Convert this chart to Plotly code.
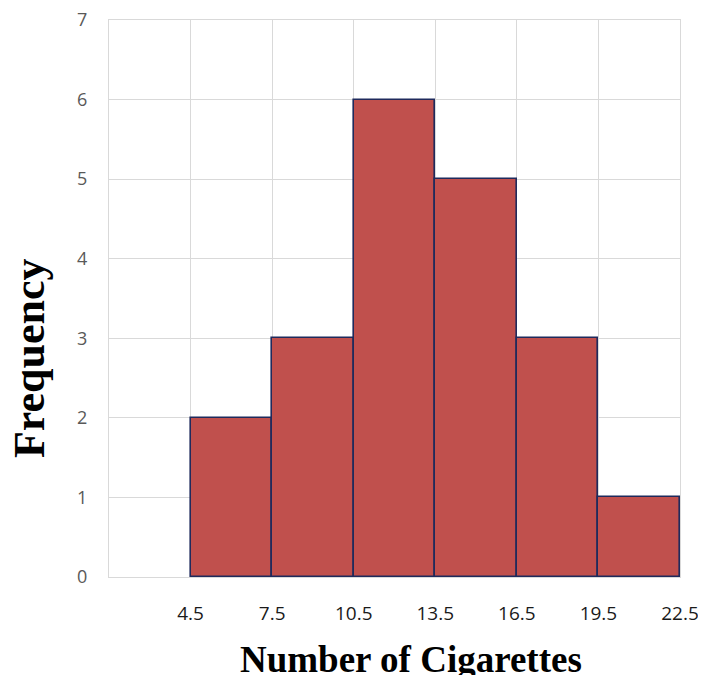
import plotly.graph_objects as go

bin_edges = [4.5, 7.5, 10.5, 13.5, 16.5, 19.5, 22.5]
frequencies = [2, 3, 6, 5, 3, 1]
x_tick_labels = ["4.5", "7.5", "10.5", "13.5", "16.5", "19.5", "22.5"]
y_ticks = [0, 1, 2, 3, 4, 5, 6, 7]

centers = [(a + b) / 2 for a, b in zip(bin_edges[:-1], bin_edges[1:])]
widths = [b - a for a, b in zip(bin_edges[:-1], bin_edges[1:])]

fig = go.Figure()
fig.add_trace(go.Bar(
    x=centers, y=frequencies, width=widths,
    marker=dict(color="#C0504D", line=dict(color="#1F2A5C", width=1.6)),
    hoverinfo="x+y",
))

grid_vals = [1.5] + bin_edges
fig.update_layout(
    width=698, height=667,
    margin=dict(l=101, r=26, t=12, b=98),
    paper_bgcolor="white", plot_bgcolor="white",
    showlegend=False,
    bargap=0,
    xaxis=dict(
        range=[1.5, 22.5],
        tickvals=grid_vals,
        ticktext=[""] + x_tick_labels,
        showgrid=True, gridcolor="#D9D9D9", gridwidth=1,
        showline=True, linecolor="#D9D9D9", linewidth=1, mirror=True,
        zeroline=False, ticks="", ticklabelstandoff=19, automargin=False,
        ticklabeloverflow="allow",
        tickfont=dict(family="Open Sans", size=19, color="#1a1a1a"),
        fixedrange=True,
    ),
    yaxis=dict(
        range=[0, 7],
        tickvals=y_ticks,
        showgrid=True, gridcolor="#D9D9D9", gridwidth=1,
        showline=True, linecolor="#D9D9D9", linewidth=1, mirror=True,
        zeroline=False, ticks="", ticklabelstandoff=17, automargin=False,
        ticklabeloverflow="allow",
        tickfont=dict(family="Open Sans", size=18, color="#595959"),
        fixedrange=True,
    ),
    annotations=[
        dict(text="<b>Number of Cigarettes</b>", xref="paper", yref="paper",
             x=0.529, y=0, yshift=-82, xanchor="center", yanchor="middle",
             showarrow=False, font=dict(family="Liberation Serif", size=37, color="black")),
        dict(text="<b>Frequency</b>", xref="paper", yref="paper",
             x=0, xshift=-80, y=0.393, xanchor="center", yanchor="middle", textangle=-90,
             showarrow=False, font=dict(family="Liberation Serif", size=44, color="black")),
    ],
)

fig.write_html("out.html")
